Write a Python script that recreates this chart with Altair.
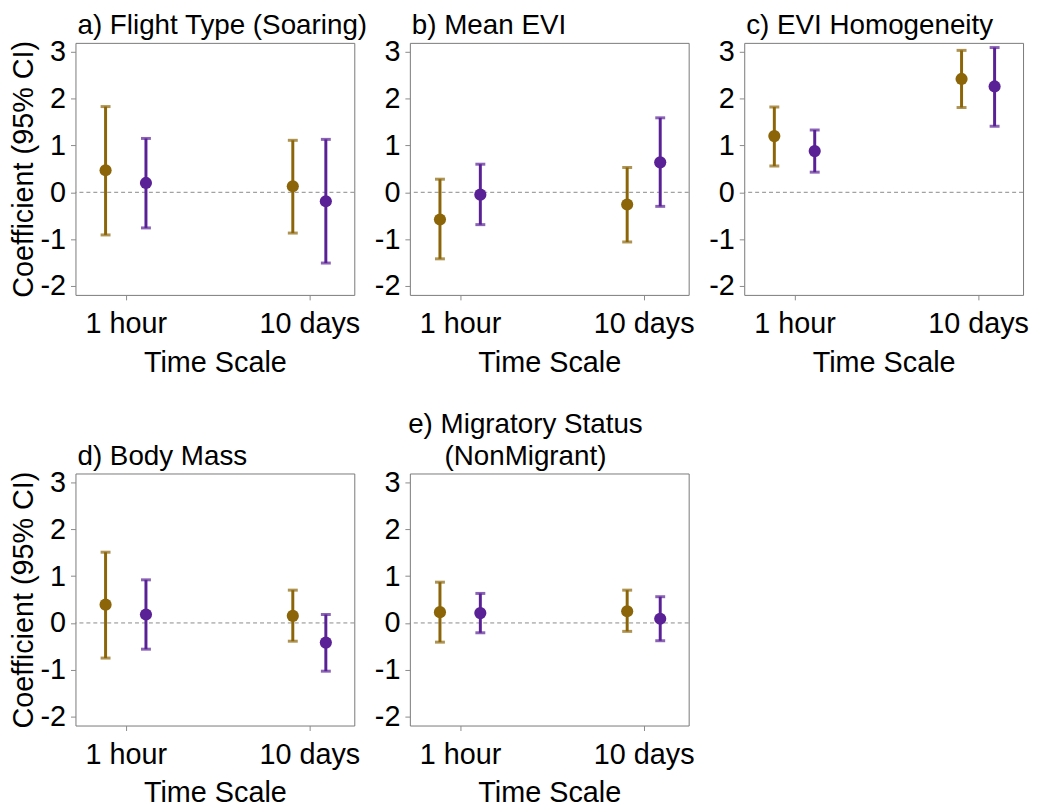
import altair as alt
import pandas as pd

titles = [
    "a) Flight Type (Soaring)",
    "b) Mean EVI",
    "c) EVI Homogeneity",
    "d) Body Mass",
    ["e) Migratory Status", "(NonMigrant)"],
]
time_scales = ["1 hour", "10 days"]
series = ["Brown", "Purple"]

# per panel: [1 hour, 10 days]
brown_est = [[0.47, 0.13], [-0.58, -0.26], [1.20, 2.42], [0.39, 0.15], [0.23, 0.25]]
brown_lo = [[-0.91, -0.87], [-1.42, -1.06], [0.56, 1.81], [-0.75, -0.39], [-0.41, -0.18]]
brown_hi = [[1.83, 1.11], [0.28, 0.53], [1.82, 3.03], [1.51, 0.70], [0.87, 0.70]]

purple_est = [[0.20, -0.19], [-0.05, 0.64], [0.88, 2.26], [0.18, -0.42], [0.21, 0.09]]
purple_lo = [[-0.76, -1.51], [-0.69, -0.30], [0.43, 1.41], [-0.56, -1.03], [-0.21, -0.38]]
purple_hi = [[1.15, 1.13], [0.60, 1.59], [1.33, 3.09], [0.92, 0.18], [0.63, 0.56]]

colors = ["#8B6508", "#5A2196"]
base_pos = [1, 2]
dodge = [0.11, 0.09]

FONT = "Liberation Sans"
TITLE_SIZE = 28
AXIS_SIZE = 29


def panel(i):
    rows = []
    for j, ts in enumerate(time_scales):
        rows.append(dict(ts=ts, s=series[0], x=base_pos[j] - dodge[j],
                         est=brown_est[i][j], lo=brown_lo[i][j], hi=brown_hi[i][j]))
        rows.append(dict(ts=ts, s=series[1], x=base_pos[j] + dodge[j],
                         est=purple_est[i][j], lo=purple_lo[i][j], hi=purple_hi[i][j]))
    df = pd.DataFrame(rows)

    xenc = alt.X("x:Q", scale=alt.Scale(domain=[0.726, 2.245], nice=False, zero=False),
                 axis=alt.Axis(values=[1, 2], title="Time Scale",
                               labelExpr="datum.value == 1 ? '1 hour' : '10 days'"))
    show_ytitle = i in (0, 3)
    yaxis = alt.Axis(values=[-2, -1, 0, 1, 2, 3], labelExpr="'' + datum.value",
                     title="Coefficient (95% CI)" if show_ytitle else None)
    yscale = alt.Scale(domain=[-2.19, 3.19], nice=False, zero=False)
    cenc = alt.Color("s:N", scale=alt.Scale(domain=series, range=colors), legend=None)

    zero = alt.Chart(pd.DataFrame({"z": [0]})).mark_rule(
        color="#8a8a8a", strokeDash=[4, 3], strokeWidth=1
    ).encode(y=alt.Y("z:Q", scale=yscale, axis=yaxis))

    base = alt.Chart(df)
    bars = base.mark_rule(strokeWidth=3).encode(
        x=xenc, y=alt.Y("lo:Q", scale=yscale, axis=yaxis), y2="hi:Q", color=cenc)
    cap_lo = base.mark_tick(orient="horizontal", size=10, thickness=3).encode(
        x=xenc, y=alt.Y("lo:Q", scale=yscale, axis=yaxis), color=cenc)
    cap_hi = base.mark_tick(orient="horizontal", size=10, thickness=3).encode(
        x=xenc, y=alt.Y("hi:Q", scale=yscale, axis=yaxis), color=cenc)
    pts = base.mark_circle(size=150, opacity=1).encode(
        x=xenc, y=alt.Y("est:Q", scale=yscale, axis=yaxis), color=cenc)

    if i == 4:
        tp = alt.TitleParams(titles[i], anchor="middle", align="center", dx=-24,
                             frame="group", fontSize=TITLE_SIZE, font=FONT,
                             fontWeight="normal", lineHeight=32, offset=-2)
    else:
        tp = alt.TitleParams(titles[i], anchor="start", align="left", dx=2,
                             frame="group", fontSize=TITLE_SIZE, font=FONT,
                             fontWeight="normal", lineHeight=28, offset=-2)

    return alt.layer(zero, bars, cap_lo, cap_hi, pts).properties(
        width=281, height=254, title=tp)


chart = alt.concat(*[panel(i) for i in range(5)], columns=3,
                   spacing={"column": 56, "row": 180}, bounds="flush").properties(
    background="white", padding={"left": 0, "top": 0, "right": 0, "bottom": 0}
).configure_axis(
    grid=False, domain=False, tickColor="#8a8a8a", tickSize=5,
    labelFont=FONT, labelFontSize=AXIS_SIZE, labelColor="black",
    titleFont=FONT, titleFontSize=AXIS_SIZE, titleFontWeight="normal", titleColor="black",
    labelFlush=False, labelOverlap=False
).configure_axisX(labelPadding=10, titlePadding=10
).configure_axisY(labelPadding=5, titlePadding=2
).configure_view(stroke="#7a7a7a", strokeWidth=1)

chart.save("out.html", embed_options={"renderer": "svg", "actions": False})
